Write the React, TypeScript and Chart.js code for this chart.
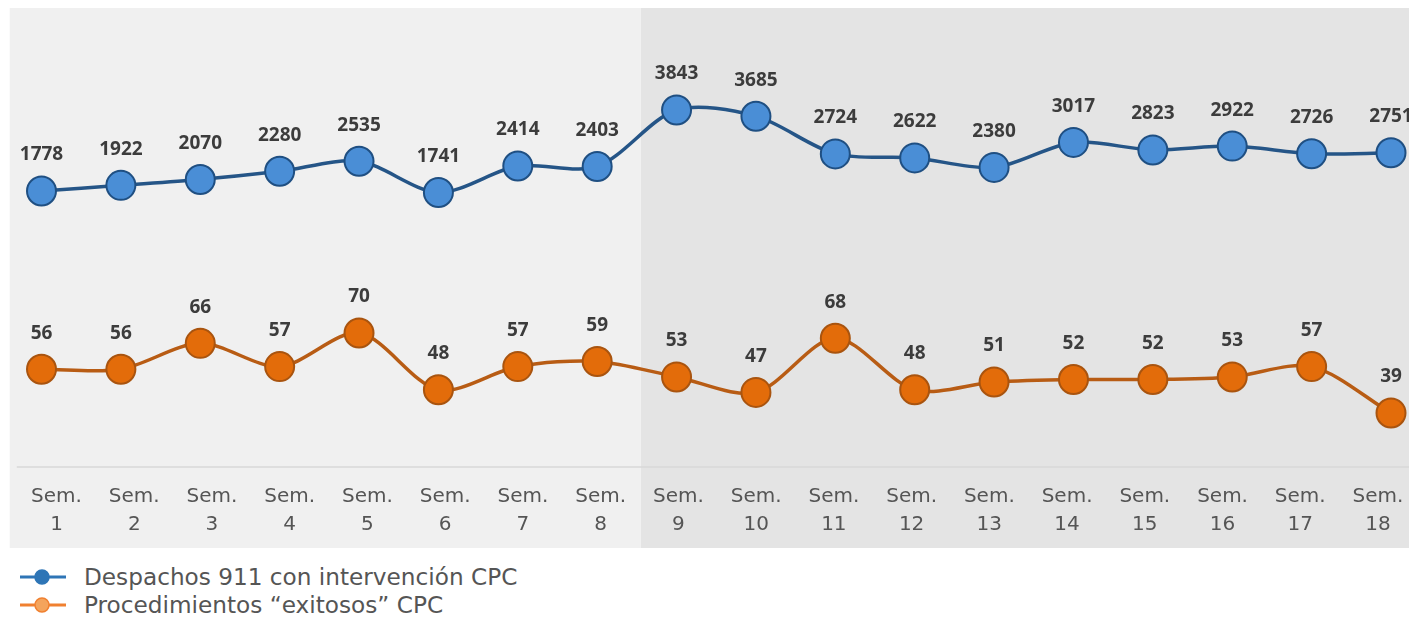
import React, { useEffect, useRef } from "react";
import { Chart, registerables } from "chart.js";

Chart.register(...registerables);

const weeks = ["1", "2", "3", "4", "5", "6", "7", "8", "9", "10", "11", "12", "13", "14", "15", "16", "17", "18"];
const tickPrefix = "Sem.";
const despachos = [1778, 1922, 2070, 2280, 2535, 1741, 2414, 2403, 3843, 3685, 2724, 2622, 2380, 3017, 2823, 2922, 2726, 2751];
const exitosos = [56, 56, 66, 57, 70, 48, 57, 59, 53, 47, 68, 48, 51, 52, 52, 53, 57, 39];
const seriesNames = ["Despachos 911 con intervención CPC", "Procedimientos “exitosos” CPC"];

const BLUE_FILL = "#4a8ed6";
const BLUE_BORDER = "#1f4f82";
const BLUE_LINE = "#255587";
const ORANGE_FILL = "#e36c0a";
const ORANGE_BORDER = "#a9540f";
const ORANGE_LINE = "#b85c14";

const CANVAS_W = 1440;

const bgPlugin = {
  id: "panelBg",
  beforeDraw(chart: any) {
    const { ctx, chartArea } = chart;
    const xd = chart.scales.xd;
    const p0 = xd.getPixelForValue(0);
    const step = xd.getPixelForValue(1) - p0;
    const left = p0 - 0.4 * step;
    const split = (xd.getPixelForValue(7) + xd.getPixelForValue(8)) / 2 + 4;
    const top = chartArea.top - 22;
    const bottom = chart.height - 12;
    ctx.save();
    ctx.fillStyle = "#f0f0f0";
    ctx.fillRect(left, top, split - left, bottom - top);
    ctx.fillStyle = "#e4e4e4";
    ctx.fillRect(split, top, chart.width - split, bottom - top);
    ctx.strokeStyle = "#d8d8d8";
    ctx.lineWidth = 1.5;
    ctx.beginPath();
    ctx.moveTo(left + 7, chartArea.bottom);
    ctx.lineTo(chart.width, chartArea.bottom);
    ctx.stroke();
    ctx.restore();
  },
};

const labelPlugin = {
  id: "valueLabels",
  afterDatasetsDraw(chart: any) {
    const { ctx } = chart;
    ctx.save();
    ctx.font = "700 19px 'Open Sans'";
    ctx.fillStyle = "#3c3c3c";
    ctx.textAlign = "center";
    ctx.textBaseline = "middle";
    chart.data.datasets.forEach((ds: any, i: number) => {
      const meta = chart.getDatasetMeta(i);
      meta.data.forEach((pt: any, j: number) => {
        ctx.fillText(String(ds.data[j]), pt.x, pt.y - 36);
      });
    });
    ctx.restore();
  },
};

export default function App() {
  const ref = useRef<HTMLCanvasElement>(null);
  useEffect(() => {
    document.body.style.margin = "0";
    const chart = new Chart(ref.current as HTMLCanvasElement, {
      type: "line",
      data: {
        labels: weeks,
        datasets: [
          {
            label: seriesNames[0],
            data: despachos,
            xAxisID: "xd",
            yAxisID: "y",
            borderColor: BLUE_LINE,
            borderWidth: 3.5,
            backgroundColor: BLUE_FILL,
            pointBackgroundColor: BLUE_FILL,
            pointBorderColor: BLUE_BORDER,
            pointBorderWidth: 2,
            pointRadius: 14.5,
            tension: 0.3,
            clip: false,
          },
          {
            label: seriesNames[1],
            data: exitosos,
            xAxisID: "xd",
            yAxisID: "y1",
            borderColor: ORANGE_LINE,
            borderWidth: 3.5,
            backgroundColor: ORANGE_FILL,
            pointBackgroundColor: ORANGE_FILL,
            pointBorderColor: ORANGE_BORDER,
            pointBorderWidth: 2,
            pointRadius: 14.5,
            tension: 0.3,
            clip: false,
          },
        ],
      },
      options: {
        animation: false,
        responsive: false,
        events: [],
        layout: { autoPadding: false, padding: { left: 41.5, right: CANVAS_W - 1391, top: 30, bottom: 5 } },
        plugins: { legend: { display: false }, tooltip: { enabled: false } },
        scales: {
          xd: { type: "category", display: false, offset: false },
          x: {
            type: "linear",
            position: "bottom",
            min: 0.807,
            max: 18.167,
            grid: { display: false, drawTicks: false },
            border: { display: false },
            afterBuildTicks: (axis: any) => {
              axis.ticks = weeks.map((_, i) => ({ value: i + 1 }));
            },
            ticks: {
              autoSkip: false,
              maxRotation: 0,
              padding: 16,
              color: "#555555",
              font: { family: "'DejaVu Sans'", size: 20, lineHeight: 1.4 },
              callback: (v: any) => [tickPrefix, weeks[Math.round(Number(v)) - 1]],
            },
          },
          y: { display: false, min: -5258, max: 5882 },
          y1: { display: false, min: 18.1, max: 187.4 },
        },
      },
      plugins: [bgPlugin, labelPlugin],
    });
    return () => chart.destroy();
  }, []);

  const legendItem = (name: string, line: string, fill: string, border: string, top: number) => (
    <div style={{ position: "absolute", left: 20, top, height: 28, display: "flex", alignItems: "center" }}>
      <svg width={48} height={20} style={{ display: "block" }}>
        <line x1={0} y1={10} x2={46} y2={10} stroke={line} strokeWidth={3} />
        <circle cx={22} cy={10} r={7} fill={fill} stroke={border} strokeWidth={1.5} />
      </svg>
      <span
        style={{
          marginLeft: 16,
          fontFamily: "'DejaVu Sans'",
          fontSize: 23.2,
          color: "#555555",
          whiteSpace: "nowrap",
          lineHeight: "28px",
        }}
      >
        {name}
      </span>
    </div>
  );

  return (
    <div style={{ position: "absolute", left: 0, top: 0, width: 1409, height: 619, overflow: "hidden", background: "#fff" }}>
      <canvas
        ref={ref}
        width={CANVAS_W}
        height={560}
        style={{ position: "absolute", left: 0, top: 0, width: CANVAS_W, height: 560 }}
      />
      {legendItem(seriesNames[0], "#2e75b6", "#2e75b6", "#2e75b6", 563)}
      {legendItem(seriesNames[1], "#f08030", "#f4a45c", "#f08030", 591)}
    </div>
  );
}
